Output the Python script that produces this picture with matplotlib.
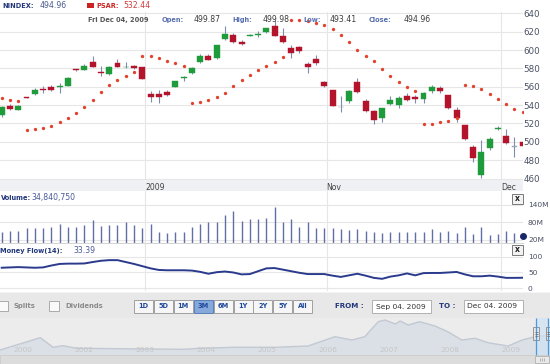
import numpy as np
import matplotlib
matplotlib.use("Agg")
import matplotlib.pyplot as plt
from matplotlib.patches import Rectangle

plt.rcParams['font.family'] = ['DejaVu Sans']

W, H = 550, 364

# ---- data (Sep 04 - Dec 04 2009, one row per session) ----
opens = [529.1, 539.3, 535.0, 548.3, 551.7, 557.8, 559.7, 559.5, 561.1, 578.6,
         578.2, 586.6, 576.3, 573.5, 586.2, 581.0, 582.6, 581.1, 552.0, 552.0,
         553.9, 560.0, 570.0, 574.6, 587.2, 593.5, 591.0, 611.7, 616.3, 608.7,
         615.8, 616.0, 619.5, 626.2, 615.3, 602.2, 603.0, 584.7, 590.2, 565.1,
         556.1, 537.5, 544.7, 565.1, 544.4, 533.8, 525.5, 541.1, 540.0, 549.9,
         548.4, 546.3, 555.3, 558.2, 550.9, 534.6, 518.2, 494.6, 463.8, 492.9,
         514.2, 506.3, 494.6, 499.87]
highs = [538.5, 541.1, 540.0, 549.0, 558.2, 561.1, 561.5, 563.7, 570.5, 579.5,
         584.7, 593.5, 582.6, 582.5, 589.9, 586.9, 584.0, 582.0, 555.3, 556.4,
         556.4, 566.5, 571.2, 581.2, 595.3, 596.0, 605.6, 626.2, 618.9, 610.9,
         617.0, 620.7, 624.0, 632.5, 623.6, 605.4, 604.7, 587.2, 594.5, 565.8,
         556.8, 549.9, 556.4, 569.2, 546.3, 534.5, 536.9, 549.9, 549.9, 553.5,
         550.9, 554.5, 561.8, 561.0, 551.5, 537.5, 518.8, 496.4, 501.9, 505.5,
         517.2, 513.9, 505.5, 499.98]
lows = [527.5, 534.6, 534.5, 547.3, 551.0, 553.5, 555.6, 552.8, 560.5, 577.0,
        577.8, 581.0, 571.7, 573.0, 581.0, 580.4, 579.0, 568.0, 543.6, 542.5,
        549.9, 559.5, 566.0, 574.0, 585.5, 589.0, 590.5, 611.0, 607.3, 605.1,
        615.0, 614.5, 619.0, 615.3, 607.3, 591.0, 596.4, 575.3, 583.6, 559.3,
        538.5, 532.7, 541.9, 553.5, 532.7, 519.3, 521.8, 540.5, 536.4, 544.7,
        542.5, 542.5, 552.8, 553.5, 535.5, 521.8, 502.0, 478.2, 460.2, 491.0,
        512.8, 497.5, 483.7, 493.41]
closes = [537.5, 535.7, 539.3, 547.8, 556.4, 556.7, 556.4, 560.3, 569.8, 578.0,
          582.2, 581.8, 574.6, 581.8, 581.8, 581.5, 580.0, 568.7, 549.1, 548.4,
          551.3, 565.9, 571.0, 580.7, 593.8, 589.4, 605.1, 617.1, 609.0, 606.5,
          616.3, 617.0, 623.6, 615.6, 608.4, 596.4, 599.2, 581.1, 586.2, 561.1,
          539.0, 537.5, 555.0, 554.2, 533.8, 523.7, 536.4, 545.5, 547.3, 545.5,
          546.6, 552.8, 559.3, 555.3, 536.4, 526.2, 503.0, 482.0, 489.1, 502.7,
          515.0, 498.3, 494.6, 494.96]
psar = [547.3, 545.5, 544.4,
        512.8, 513.6, 515.3, 517.5, 521.5, 525.9, 531.0, 537.9, 545.5, 554.2,
        561.5, 567.6, 572.0, 576.0,
        593.8, 593.5, 591.6, 588.3, 586.2, 582.9,
        542.2, 543.3, 545.5, 548.4, 552.8, 560.4, 567.0, 572.7, 578.2, 582.6,
        587.2, 592.7,
        632.5, 632.5, 631.5, 629.0, 627.0, 623.0, 616.5, 608.5, 600.5, 594.0,
        587.5, 579.0, 572.0, 565.5, 559.5, 555.0,
        519.0, 519.7, 521.2, 522.9, 525.5,
        562.2, 560.8, 557.5, 551.7, 546.3, 540.8, 536.0, 532.44]
volume_m = [48.5, 51.9, 51.9, 60.1, 62.2, 62.2, 65.6, 73.9, 63.6, 65.6,
            71.5, 88.6, 68.0, 71.5, 71.5, 80.7, 71.5, 60.1, 73.9, 47.4,
            43.0, 47.4, 48.5, 65.6, 73.9, 81.7, 81.7, 104.7, 119.5, 86.2,
            91.0, 92.0, 94.4, 132.2, 82.8, 91.0, 65.6, 82.8, 62.2, 60.1,
            60.1, 56.7, 54.3, 57.7, 50.9, 48.5, 43.0, 48.5, 48.5, 48.5,
            48.5, 48.5, 57.7, 48.5, 50.9, 45.0, 63.6, 39.6, 65.6, 37.2,
            39.6, 50.9, 43.0, 34.84]
money_flow = [65, 66, 67, 66, 65, 66, 72, 77, 78, 78,
              78.5, 83, 87, 89, 89, 83, 77, 70, 63, 58,
              57, 57, 57, 56, 52, 46, 51, 53, 50, 44,
              45, 54, 63, 64, 59, 54, 49, 45, 45, 45,
              40, 36, 41, 46, 40, 33, 30, 37, 41, 47,
              41, 48, 48.5, 48.5, 50, 51.7, 44, 38, 38, 40,
              37, 33, 33, 33.39]

month_ticks = [17.33, 39.3, 60.34]
month_labels = ['2009', 'Nov', 'Dec']
price_ticks = list(range(460, 641, 20))
vol_ticks = [20, 80, 140]
vol_labels = ['20M', '80M', '140M']
mf_ticks = [0, 50, 100]

# long-range navigator (years, arbitrary level)
nav_year = [2000.62, 2001.28, 2001.49, 2001.65, 2001.88, 2003.62, 2003.90,
            2004.44, 2005.13, 2005.67, 2006.11, 2006.39, 2006.60, 2006.82,
            2006.93, 2007.10, 2007.18, 2007.31, 2007.50, 2007.75, 2007.96,
            2008.19, 2008.41, 2008.62, 2008.95, 2009.18, 2009.39, 2009.64]
nav_level = [5, 17.3, 7.7, 9.3, 6.7, 5.7, 6.7, 7.7, 7.7, 9.0, 18.3, 15.0, 18.3,
             33.3, 35.0, 31.0, 34.0, 30.0, 33.3, 29.0, 23.3, 15.0, 16.7, 12.3,
             9.0, 15.0, 18.3, 20.0]
nav_ticks = [2001, 2002, 2003, 2004, 2005, 2006, 2007, 2008, 2009]
nav_labels = ['2000', '2002', '2003', '2004', '2005', '2006', '2007', '2008', '2009']

ranges = ['1D', '5D', '1M', '3M', '6M', '1Y', '2Y', '5Y', 'All']
selected_range = '3M'

# ---- styling ----
GREEN, RED, GRAY = '#1e9c3c', '#b3132b', '#9aa3b8'
WICK = '#7f8cb0'
GRID = '#e6e6e6'
NAVY = '#22367a'
TICKC = '#4a5163'


def px_rect(x0, y0, x1, y1):
    return [x0 / W, 1 - y1 / H, (x1 - x0) / W, (y1 - y0) / H]


fig = plt.figure(figsize=(W / 100, H / 100), dpi=100)

bg = fig.add_axes([0, 0, 1, 1], zorder=-1)
bg.set_xlim(0, W)
bg.set_ylim(H, 0)
bg.axis('off')
bg.add_patch(Rectangle((0, 180), 523, 11, fc='#eef0f4', ec='none'))
bg.add_patch(Rectangle((0, 292), W, 26, fc='#e8e8e8', ec='none'))
bg.add_patch(Rectangle((0, 292), W, 1, fc='#f3f3f3', ec='none'))
bg.add_patch(Rectangle((0, 355), W, 9, fc='#dcdcdc', ec='#c8c8c8', lw=0.6))

idx = np.arange(len(closes))
xlim = (-0.206, 63.03)

# ---- price panel ----
ax = fig.add_axes(px_rect(0, 12, 523, 180))
o, hgh, lo, c = map(np.array, (opens, highs, lows, closes))
cols = [GREEN if cc > oo else (RED if cc < oo else GRAY) for oo, cc in zip(o, c)]
ax.vlines(idx, lo, hgh, color=WICK, lw=0.8, zorder=2)
ax.bar(idx, np.maximum(np.abs(c - o), 0.9), bottom=np.minimum(o, c), width=0.72,
       color=cols, edgecolor=cols, lw=0.3, zorder=3)
ax.plot(idx, psar, 'o', ms=2.4, color='#e2412b', mec='none', zorder=4)
ax.set_xlim(*xlim)
ax.set_ylim(458.4, 641.4)
ax.yaxis.tick_right()
ax.set_yticks(price_ticks)
ax.set_xticks(month_ticks)
ax.set_xticklabels(month_labels)
for lbl in ax.get_xticklabels():
    lbl.set_ha('left')
ax.tick_params(axis='y', length=0, pad=0.5, labelsize=6.3, labelcolor=TICKC)
ax.tick_params(axis='x', length=0, pad=2.2, labelsize=5.6, labelcolor='#444444')
ax.grid(True, color=GRID, lw=0.8)
ax.set_axisbelow(True)
for s in ax.spines.values():
    s.set_visible(False)

# ---- volume panel ----
av = fig.add_axes(px_rect(0, 191, 523, 243))
av.vlines(idx[:-1], 0, volume_m[:-1], color='#6070a6', lw=1.0)
av.plot(idx[-1], volume_m[-1], 'o', ms=4, color='#18266a', clip_on=False, zorder=5)
av.set_xlim(*xlim)
av.set_ylim(9.7, 188)
av.yaxis.tick_right()
av.set_yticks(vol_ticks)
av.set_yticklabels(vol_labels)
av.set_xticks(month_ticks)
av.tick_params(axis='y', length=0, pad=3.6, labelsize=5.4, labelcolor=TICKC)
av.tick_params(axis='x', length=0, labelbottom=False)
av.grid(True, color=GRID, lw=0.8)
av.set_axisbelow(True)
for s in av.spines.values():
    s.set_visible(False)
av.spines['bottom'].set_visible(True)
av.spines['bottom'].set_color('#d6d6d6')

# ---- money flow panel ----
am = fig.add_axes(px_rect(0, 244, 523, 291))
am.plot(idx, money_flow, color='#2a3a8c', lw=1.4)
am.set_xlim(*xlim)
am.set_ylim(-8.5, 140)
am.yaxis.tick_right()
am.set_yticks(mf_ticks)
am.set_xticks(month_ticks)
am.tick_params(axis='y', length=0, pad=3.6, labelsize=5.4, labelcolor=TICKC)
am.tick_params(axis='x', length=0, labelbottom=False)
am.grid(True, color=GRID, lw=0.8)
am.set_axisbelow(True)
for s in am.spines.values():
    s.set_visible(False)

# ---- navigator ----
an = fig.add_axes(px_rect(0, 318, 550, 355))
an.set_facecolor('#ececec')
an.fill_between(nav_year, nav_level, 0, color='#dbe0e7', lw=0)
an.plot(nav_year, nav_level, color='#c2c9d2', lw=1.0)
an.set_xlim(2000.62, 2000.62 + W / 61)
an.set_ylim(0, 37)
for yr, lbl in zip(nav_ticks, nav_labels):
    an.text(yr, 5, lbl, ha='center', va='center', fontsize=5.4, color='#c6c6c6')
an.set_xticks([])
an.set_yticks([])
for s in an.spines.values():
    s.set_visible(False)

# ---- overlay: labels and widgets ----
ui = fig.add_axes([0, 0, 1, 1], zorder=10)
ui.set_xlim(0, W)
ui.set_ylim(H, 0)
ui.axis('off')
ui.patch.set_alpha(0)


def txt(x, y, s, color, bold=False, size=5.5, ha='left'):
    ui.text(x, y, s, color=color, fontsize=size, ha=ha, va='center',
            fontweight='bold' if bold else 'normal')


txt(2, 5.5, 'NINDEX:', NAVY, True, 4.8)
txt(40, 5.5, '494.96', '#4a5a8e', size=5.6)
ui.add_patch(Rectangle((87, 3.3), 7, 4.2, fc='#cc2222', ec='none'))
txt(96, 5.5, 'PSAR:', '#cc2222', True, 4.8)
txt(123, 5.5, '532.44', '#d03c3c', size=5.6)

txt(88, 20, 'Fri Dec 04, 2009', '#555555', True, 4.8)
for x, s in [(162, 'Open:'), (232, 'High:'), (303, 'Low:'), (369, 'Close:')]:
    txt(x, 20, s, '#5870ae', True, 4.8)
for x, s in [(194, '499.87'), (263, '499.98'), (330, '493.41'), (404, '494.96')]:
    txt(x, 20, s, '#3c3c3c', size=5.6)

txt(0.5, 197.5, 'Volume:', NAVY, True, 4.8)
txt(31, 197.5, '34,840,750', '#4a5a9a', size=5.6)
txt(0, 250.5, 'Money Flow(14):', NAVY, True, 4.8)
txt(73, 250.5, '33.39', '#4a5a9a', size=5.6)

for y0 in (194, 245):
    ui.add_patch(Rectangle((511.5, y0), 11, 9.5, fc='#f2f2f2', ec='#7a7a7a', lw=0.7))
    txt(517, y0 + 4.6, 'x', '#222222', True, 5.5, ha='center')

# controls
for x0, s, tx in [(-2, 'Splits', 14), (48.5, 'Dividends', 65)]:
    ui.add_patch(Rectangle((x0, 300.5), 10, 10, fc='#fafafa', ec='#aaaaaa', lw=0.7))
    txt(tx, 306, s, '#8a8a8a', True, 4.9)
for k, s in enumerate(ranges):
    x0 = 134 + 19.9 * k
    sel = s == selected_range
    ui.add_patch(Rectangle((x0, 300), 19, 12.5, fc='#86a9dc' if sel else '#f6f6f6',
                           ec='#5a7fb8' if sel else '#a0a0a0', lw=0.7))
    txt(x0 + 9.5, 306.3, s, '#1f4a9c', True, 4.8, ha='center')
txt(335, 306.5, 'FROM :', NAVY, True, 5.1)
ui.add_patch(Rectangle((372, 300), 59, 13, fc='white', ec='#b0b0b0', lw=0.7))
txt(376, 306.5, 'Sep 04. 2009', '#333333', size=5.4)
txt(439, 306.5, 'TO :', NAVY, True, 5.1)
ui.add_patch(Rectangle((464, 300), 59, 13, fc='white', ec='#b0b0b0', lw=0.7))
txt(467, 306.5, 'Dec 04. 2009', '#333333', size=5.4)

# navigator selection and scrollbar
ui.add_patch(Rectangle((536, 318), 12, 37, fc='#cfe2f5', ec='none', alpha=0.7))
ui.vlines([536, 548], 318, 355, color='#4a9ae0', lw=0.9)
for hx in (533, 545.5):
    ui.add_patch(Rectangle((hx, 327), 6, 13, fc='#e6e6e6', ec='#8a8a8a', lw=0.6))
    ui.hlines([331.5, 333.5, 335.5], hx + 1.5, hx + 4.5, color='#666666', lw=0.5)
ui.add_patch(Rectangle((535, 356), 14, 7, fc='#e9e9e9', ec='#b0b0b0', lw=0.6))
ui.vlines([540, 542, 544], 358, 361, color='#9a9a9a', lw=0.5)

fig.savefig('out.png', dpi=100)
